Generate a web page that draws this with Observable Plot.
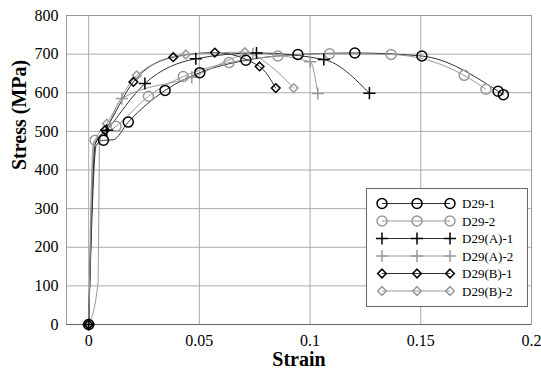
<!DOCTYPE html>
<html><head><meta charset="utf-8">
<script src="https://cdn.jsdelivr.net/npm/d3@7"></script>
<script src="https://cdn.jsdelivr.net/npm/@observablehq/plot@0.6"></script>
<style>
body{margin:0;background:#fff;}
#chart{position:relative;width:541px;height:374px;font-family:'Liberation Serif',serif;}
#chart svg{position:absolute;left:0;top:0;}
#chart svg text{font-family:'Liberation Serif',serif !important;}
</style></head><body><div id="chart"></div>
<script>
const FONT = "'Liberation Serif',serif";
const seriesNames = ["D29-1","D29-2","D29(A)-1","D29(A)-2","D29(B)-1","D29(B)-2"];
const xTicks = [0, 0.05, 0.1, 0.15, 0.2];
const yTicks = [0, 100, 200, 300, 400, 500, 600, 700, 800];

// marker points [strain, stress]
const D29_1 = [[0,0],[0.0067,477],[0.0179,524],[0.0345,606],[0.0502,652],[0.071,684],[0.0945,699],[0.1202,703],[0.1505,695],[0.1849,604],[0.1873,595]];
const D29_2 = [[0,0],[0.0029,477],[0.0124,513],[0.027,591],[0.0427,642],[0.0634,678],[0.0855,695],[0.1088,701],[0.1366,699],[0.1696,645],[0.1794,609]];
const D29A_1 = [[0,0],[0.0082,503],[0.0254,624],[0.0484,688],[0.0758,703],[0.1062,686],[0.1268,599]];
const D29A_2 = [[0,0],[0.015,585],[0.0466,640],[0.0742,701],[0.1001,680],[0.1035,598]];
const D29B_1 = [[0,0],[0.0074,503],[0.0202,628],[0.0382,692],[0.057,704],[0.0772,668],[0.0845,612]];
const D29B_2 = [[0,0],[0.0082,520],[0.0217,645],[0.0439,699],[0.0705,705],[0.0926,612]];

// unmarked curve points (elastic part / knees) [strain, stress]
const D29_1_path = [[0.0035,466],[0.011,478]];
const D29_2_path = [[0.002,465]];
const D29A_1_path = [[0.003,468]];
const D29A_2_path = [[0.0042,105],[0.005,480],[0.008,505]];
const D29B_1_path = [[0.003,468]];
const D29B_2_path = [[0.0025,470],[0.0817,671]];

const markerSets = [D29_1, D29_2, D29A_1, D29A_2, D29B_1, D29B_2];
const pathSets = [D29_1_path, D29_2_path, D29A_1_path, D29A_2_path, D29B_1_path, D29B_2_path];

const styles = [
  {symbol:"circle", r:5, mk:"#000", ln:"#333"},
  {symbol:"circle", r:5, mk:"#999", ln:"#999"},
  {symbol:"plus", r:4, mk:"#000", ln:"#333"},
  {symbol:"plus", r:4, mk:"#999", ln:"#999"},
  {symbol:"diamond2", r:3.9, mk:"#000", ln:"#333"},
  {symbol:"diamond2", r:3.9, mk:"#999", ln:"#999"}
];

const lineMarks = [], grayDots = [], blackDots = [];
seriesNames.forEach((name, i) => {
  const pts = markerSets[i].concat(pathSets[i]).map(([x,y]) => ({x,y})).sort((a,b)=>a.x-b.x);
  const mks = markerSets[i].map(([x,y]) => ({x,y}));
  const s = styles[i];
  lineMarks.push(Plot.line(pts, {x:"x", y:"y", stroke:s.ln, strokeWidth:1, curve:"monotone-x"}));
  const dm = Plot.dot(mks, {x:"x", y:"y", symbol:s.symbol, r:s.r, stroke:s.mk, fill:"none", strokeWidth:1.5});
  (s.mk === "#000" ? blackDots : grayDots).push(dm);
});

const chart = Plot.plot({
  width:541, height:374,
  marginLeft:66, marginRight:10, marginTop:15, marginBottom:50,
  x:{domain:[-0.01,0.2]},
  y:{domain:[0,800]},
  style:{fontFamily:FONT, fontSize:"16px", color:"#000", background:"#fff"},
  marks:[
    Plot.gridY(yTicks, {stroke:"#aaa", strokeOpacity:1}),
    Plot.gridX(xTicks, {stroke:"#aaa", strokeOpacity:1}),
    Plot.frame({stroke:"#999"}),
    Plot.ruleY([0], {stroke:"#666"}),
    Plot.axisY(yTicks, {tickSize:0, tickPadding:8, fontSize:16, label:null}),
    Plot.axisX(xTicks, {tickSize:0, tickPadding:10, fontSize:16, label:null, tickFormat:d=>String(d)}),
    Plot.text(["Strain"], {frameAnchor:"bottom", dy:41, fontWeight:"bold", fontSize:20}),
    Plot.text(["Stress (MPa)"], {frameAnchor:"left", dx:-47, rotate:-90, fontWeight:"bold", fontSize:20}),
    ...lineMarks,
    ...grayDots,
    ...blackDots
  ]
});
document.getElementById("chart").appendChild(chart);

// legend overlay
const lg = d3.select("#chart").append("svg").attr("width",541).attr("height",374);
lg.append("rect").attr("x",366.5).attr("y",188.5).attr("width",161).attr("height",118)
  .attr("fill","#fff").attr("stroke","#666").attr("stroke-width",1);
const symMap = {circle:d3.symbolCircle, plus:d3.symbolPlus, diamond2:d3.symbolDiamond2};
const mx = [382, 417, 450];
seriesNames.forEach((name, i) => {
  const yy = 203.5 + i*17.5;
  const s = styles[i];
  lg.append("line").attr("x1",mx[0]).attr("x2",mx[2]).attr("y1",yy).attr("y2",yy)
    .attr("stroke",s.ln).attr("stroke-width",1);
  const path = d3.symbol(symMap[s.symbol], s.r*s.r*Math.PI)();
  mx.forEach(x => lg.append("path").attr("d",path).attr("transform",`translate(${x},${yy})`)
    .attr("fill","none").attr("stroke",s.mk).attr("stroke-width",1.5));
  lg.append("text").attr("x",462).attr("y",yy).attr("dy","0.35em")
    .attr("font-family",FONT).attr("font-size",13).attr("fill","#000").text(name);
});
</script>
</body></html>
